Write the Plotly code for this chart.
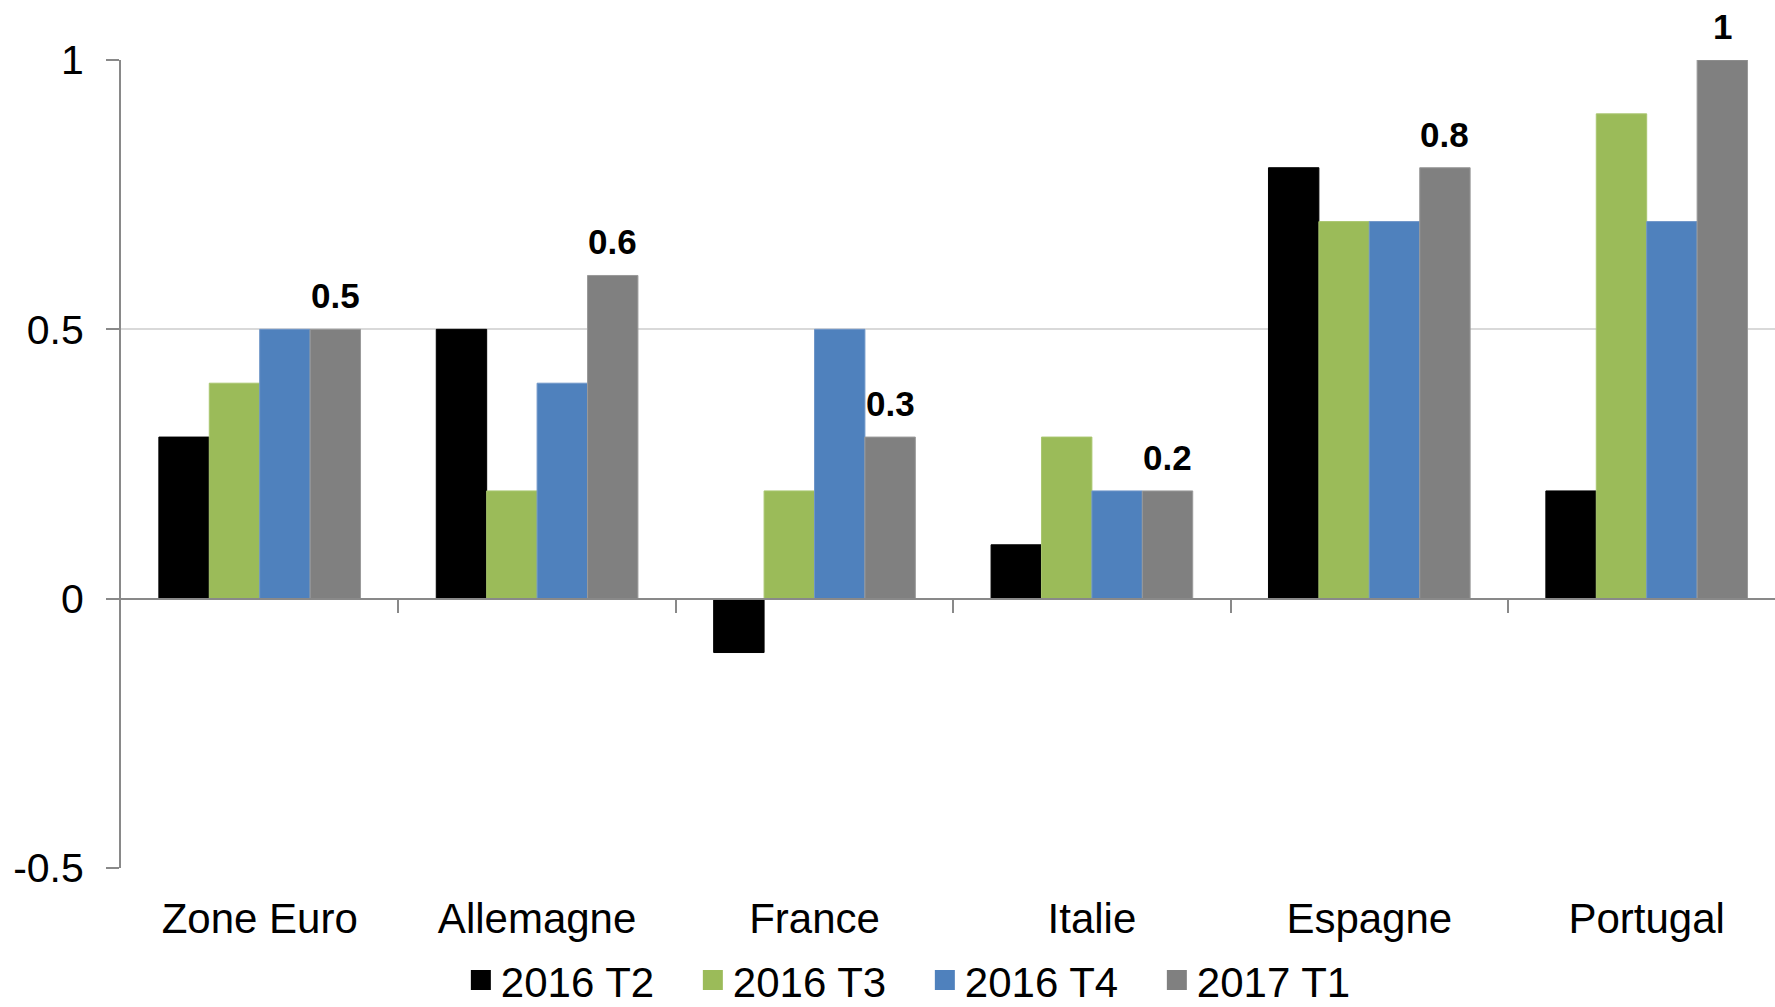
import plotly.graph_objects as go

categories = ["Zone Euro", "Allemagne", "France", "Italie", "Espagne", "Portugal"]
series_names = ["2016 T2", "2016 T3", "2016 T4", "2017 T1"]
t2_2016 = [0.3, 0.5, -0.1, 0.1, 0.8, 0.2]
t3_2016 = [0.4, 0.2, 0.2, 0.3, 0.7, 0.9]
t4_2016 = [0.5, 0.4, 0.5, 0.2, 0.7, 0.7]
t1_2017 = [0.5, 0.6, 0.3, 0.2, 0.8, 1.0]
y_ticks = [-0.5, 0, 0.5, 1]
y_tick_labels = ["-0.5", "0", "0.5", "1"]

colors = ["#000000", "#9BBB59", "#4F81BD", "#808080"]
line_colors = ["#000000", "#A9C66F", "#6F96C8", "#9A9A9A"]
FONT = "Liberation Sans, Arial, sans-serif"

W, H = 1775, 1007
ML, MR, MT, MB = 121, 0, 60, 139
cat_px = 277.4
x_end = -0.5 + (W - ML - MR) / cat_px
bargap = 0.273
bar_w_px = cat_px * (1 - bargap) / 4

fig = go.Figure()
all_series = [t2_2016, t3_2016, t4_2016, t1_2017]
for name, vals, c, lc in zip(series_names, all_series, colors, line_colors):
    fig.add_trace(go.Bar(
        x=categories, y=vals, name=name, showlegend=False,
        marker=dict(color=c, line=dict(color=lc, width=1)),
    ))

# legend entries (larger squares)
for name, c in zip(series_names, colors):
    fig.add_trace(go.Scatter(
        x=[None], y=[None], name=name, mode="markers", xaxis="x2",
        marker=dict(symbol="square", size=16, color=c, line=dict(color=c, width=4)),
    ))

# data labels for the last series
for i, (cat, v) in enumerate(zip(categories, t1_2017)):
    fig.add_annotation(
        x=cat, y=v, text="<b>%g</b>" % v, showarrow=False,
        xanchor="center", yanchor="bottom",
        xshift=1.5 * bar_w_px, yshift=12,
        font=dict(family=FONT, size=35, color="#000000"),
    )

fig.update_layout(
    width=W, height=H,
    margin=dict(l=ML, r=MR, t=MT, b=MB, pad=0, autoexpand=False),
    paper_bgcolor="white", plot_bgcolor="white",
    barmode="group", bargap=bargap, bargroupgap=0,
    font=dict(family=FONT, size=42, color="#000000"),
    xaxis=dict(
        type="category", range=[-0.5, x_end], showline=False, showgrid=False,
        ticks="", zeroline=False, ticklabelstandoff=22, automargin=False,
        tickfont=dict(family=FONT, size=42, color="#000000"),
        fixedrange=True,
    ),
    xaxis2=dict(
        overlaying="x", anchor="free", position=1 / 3,
        range=[-0.5, x_end], showline=True, linecolor="#898989", linewidth=2,
        ticks="outside", ticklen=13, tickwidth=2, tickcolor="#898989",
        tickmode="array", tickvals=[0.5, 1.5, 2.5, 3.5, 4.5],
        showticklabels=False, showgrid=False, zeroline=False, automargin=False,
    ),
    yaxis=dict(
        range=[-0.5, 1], tickmode="array", tickvals=y_ticks, ticktext=y_tick_labels,
        showgrid=True, gridcolor="#D9D9D9", gridwidth=2,
        zeroline=False, showline=True, linecolor="#898989", linewidth=2,
        ticks="outside", ticklen=13, tickwidth=2, tickcolor="#898989",
        ticklabelstandoff=14, automargin=False,
        tickfont=dict(family=FONT, size=41, color="#000000"),
    ),
    legend=dict(
        orientation="h", xanchor="center", x=0.486, yanchor="middle", y=-0.139,
        font=dict(family=FONT, size=42, color="#000000"),
        itemsizing="trace", traceorder="normal", itemclick=False,
        entrywidth=187, entrywidthmode="pixels",
        bgcolor="rgba(0,0,0,0)",
    ),
    showlegend=True,
)

fig.write_html(
    "out.html",
    config={"displayModeBar": False},
    post_script="document.body.style.margin='0';document.body.style.overflow='hidden';",
)
